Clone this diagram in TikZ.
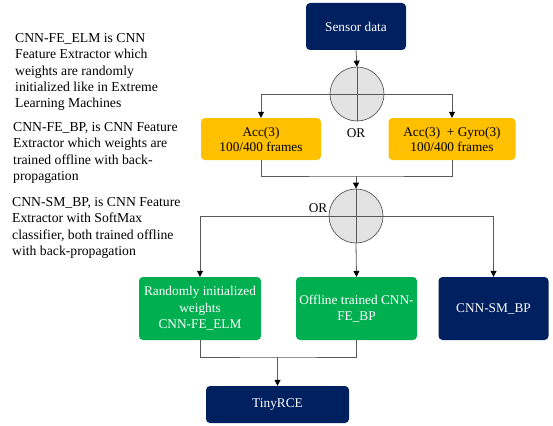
\documentclass[tikz,border=0pt]{standalone}
\usepackage{fontspec}
\setmainfont{Liberation Serif}
\usetikzlibrary{arrows.meta}
\definecolor{navy}{HTML}{002060}
\definecolor{gold}{HTML}{FFC000}
\definecolor{leaf}{HTML}{00B050}
\definecolor{wire}{HTML}{595959}
\definecolor{orfill}{HTML}{E3E3E3}
\tikzset{
  txt/.style={font=\fontsize{13.3}{16}\selectfont},
  box/.style={txt, rounded corners=4pt, align=center, inner sep=2pt},
  darkbox/.style={box, fill=navy, text=white},
  goldbox/.style={box, fill=gold, text=black, font=\fontsize{13.3}{15}\selectfont},
  greenbox/.style={box, fill=leaf, text=white, font=\fontsize{13.3}{16.5}\selectfont},
  orgate/.style={circle, draw=wire, fill=orfill, line width=0.7pt, minimum size=54pt, inner sep=0pt},
  wirearrow/.style={draw=wire, line width=0.8pt, -{Triangle[length=6pt,width=6pt,fill=black,color=black]}},
  wireline/.style={draw=wire, line width=0.8pt},
  note/.style={font=\fontsize{13.7}{16.2}\selectfont, align=left, anchor=north west, inner sep=0pt},
}
\begin{document}
\begin{tikzpicture}[x=1pt,y=-1pt]
\useasboundingbox (0,0) rectangle (553,425);

% explanatory notes
\node[note] (n1) at (15,33.5) {CNN-FE\_ELM is CNN\\Feature Extractor which\\weights are randomly\\initialized like in Extreme\\Learning Machines};
\node[note] (n2) at (13,122.5) {CNN-FE\_BP, is CNN Feature\\Extractor which weights are\\trained offline with back-\\propagation};
\node[note] (n3) at (12,197.5) {CNN-SM\_BP, is CNN Feature\\Extractor with SoftMax\\classifier, both trained offline\\with back-propagation};

% flow boxes
\node[darkbox, minimum width=100pt, minimum height=47pt] (sensor) at (356,26.5) {Sensor data};
\node[orgate] (or1) at (357,94) {};
\node[goldbox, minimum width=120pt, minimum height=42pt] (acc) at (261,139) {Acc(3)\\100/400 frames};
\node[goldbox, minimum width=127pt, minimum height=42pt] (gyro) at (452,139) {Acc(3) ~+ Gyro(3)\\100/400 frames};
\node[txt] (orlab1) at (356,133) {OR};

\node[orgate] (or2) at (356,216) {};
\node[txt] (orlab2) at (318,208) {OR};

\node[greenbox, minimum width=122pt, minimum height=63pt] (elm) at (200,308.5) {Randomly initialized\\weights\\CNN-FE\_ELM};
\node[greenbox, minimum width=121pt, minimum height=63pt] (bp) at (356.5,308.5) {Offline trained CNN-\\FE\_BP};
\node[darkbox, minimum width=110pt, minimum height=63pt] (sm) at (493.5,308.5) {CNN-SM\_BP};
\node[darkbox, minimum width=143pt, minimum height=37pt] (tiny) at (277.5,404.5) {TinyRCE};

% crosses inside the OR gates
\foreach \g in {or1,or2}{
  \draw[wireline, line width=0.6pt] (\g.north) -- (\g.south);
  \draw[wireline, line width=0.6pt] (\g.west) -- (\g.east);
}

% connectors
\draw[wirearrow] (sensor.south) -- (or1.north);
\draw[wirearrow] (or1.west) -| (acc.north);
\draw[wirearrow] (or1.east) -| (gyro.north);

\coordinate (j1) at (356,176);
\draw[wireline] (acc.south) |- (j1) -| (gyro.south);
\draw[wirearrow] (j1) -- (or2.north);

\draw[wirearrow] (or2.west) -| (elm.north);
\draw[wirearrow] (or2.south) -- (bp.north);
\draw[wirearrow] (or2.east) -| (sm.north);

\coordinate (j2) at (277.5,357);
\draw[wireline] (elm.south) |- (j2) -| (bp.south);
\draw[wirearrow] (j2) -- (tiny.north);
\end{tikzpicture}
\end{document}
